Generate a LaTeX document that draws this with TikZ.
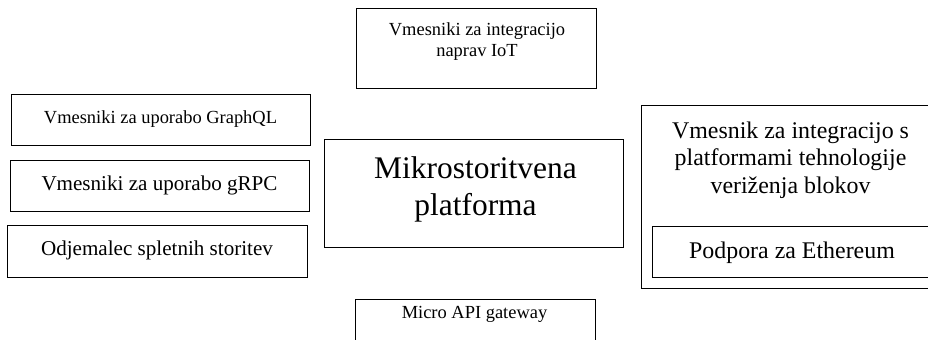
\documentclass[tikz,border=0pt]{standalone}
\usepackage{fontspec}
\setmainfont{Liberation Serif}
\tikzset{
  box/.style={draw, line width=0.6pt, inner sep=0pt, anchor=north west},
  txt/.style={align=center, inner sep=0pt},
  smalltxt/.style={txt, font=\fontsize{10.5}{11.9}\selectfont},
  midtxt/.style={txt, font=\fontsize{12}{14}\selectfont},
  bigtxt/.style={txt, font=\fontsize{13.6}{15.6}\selectfont},
  hugetxt/.style={txt, font=\fontsize{17.9}{21}\selectfont}
}
\begin{document}
\begin{tikzpicture}[x=0.02cm, y=-0.02cm]
    \clip (0,0) rectangle (928,339);
    % levi stolpec
    \node[box, minimum width=5.98cm, minimum height=1.02cm] (graphql) at (11,94) {};
    \node[box, minimum width=5.98cm, minimum height=1.02cm] (grpc) at (10,160) {};
    \node[box, minimum width=6.00cm, minimum height=1.04cm] (odjem) at (7,225) {};
    \node[smalltxt] (graphqltxt) at (160.5,119) {Vmesniki za uporabo GraphQL};
    \node[midtxt] (grpctxt) at (159.5,185) {Vmesniki za uporabo gRPC};
    \node[midtxt] (odjemtxt) at (157,250.5) {Odjemalec spletnih storitev};
    % sredina
    \node[box, minimum width=4.80cm, minimum height=1.60cm] (iot) at (356,8) {};
    \node[smalltxt] (iottxt) at (477,42) {Vmesniki za integracijo\\naprav IoT};
    \node[box, minimum width=5.98cm, minimum height=2.16cm] (platf) at (324,139) {};
    \node[hugetxt] (platftxt) at (475.5,189) {Mikrostoritvena\\platforma};
    \node[box, minimum width=4.80cm, minimum height=1.60cm] (gateway) at (355,299) {};
    \node[smalltxt] (gatewaytxt) at (474.5,314) {Micro API gateway};
    % desno
    \node[box, minimum width=5.98cm, minimum height=3.66cm] (veriz) at (641,105) {};
    \node[bigtxt] (veriztxt) at (790.5,160) {Vmesnik za integracijo s\\platformami tehnologije\\veriženja blokov};
    \node[box, minimum width=5.60cm, minimum height=1.02cm] (eth) at (652,226) {};
    \node[bigtxt] (ethtxt) at (792,253) {Podpora za Ethereum};
\end{tikzpicture}
\end{document}
